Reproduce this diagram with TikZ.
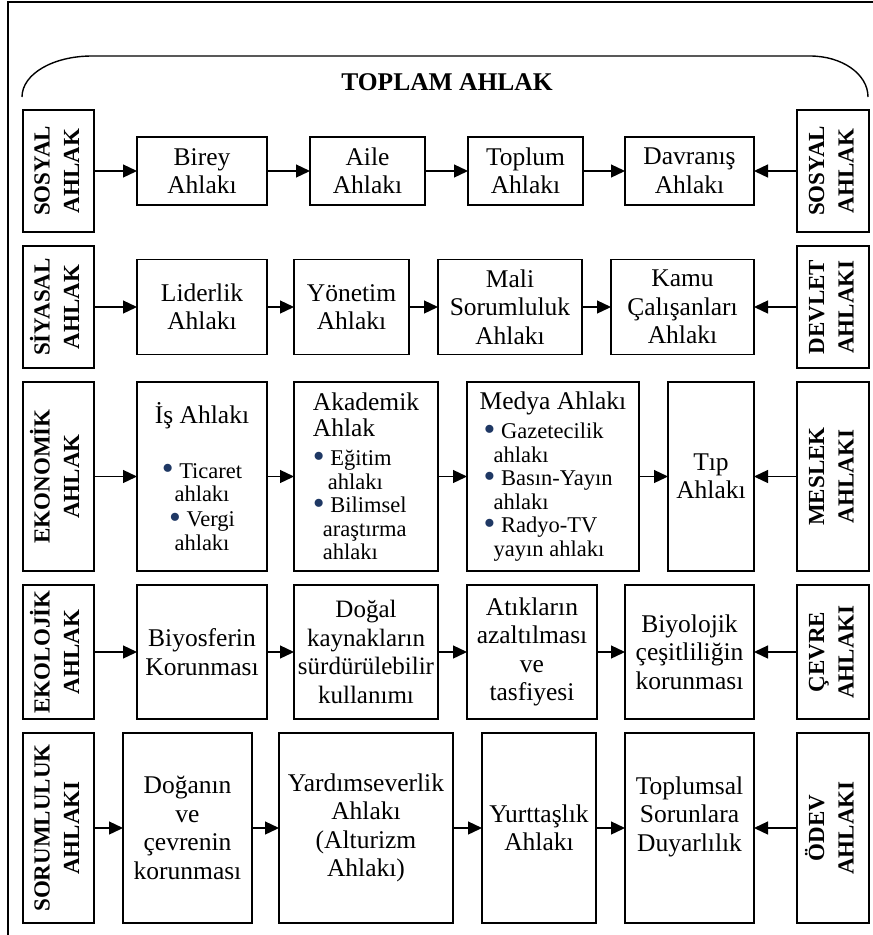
\documentclass[tikz,border=0pt]{standalone}
\usepackage{fontspec}
\setmainfont{Liberation Serif}
\usepackage{graphicx}
\usetikzlibrary{arrows.meta, positioning}
\definecolor{bulletblue}{HTML}{1F3864}
\newcommand{\mainfs}{\fontsize{25.5}{28.5}\selectfont}
\newcommand{\subfs}{\fontsize{22.5}{23.5}\selectfont}
\newcommand{\sidefs}{\fontsize{23}{29.5}\selectfont\bfseries}
\newcommand{\bul}{{\color{bulletblue}\raisebox{-1.5pt}{\scalebox{1.5}{\textbullet}}}}
\newcommand{\sidetext}[2]{\rotatebox{90}{\begin{tabular}{@{}c@{}}#1\\#2\end{tabular}}}

\begin{document}
\begin{tikzpicture}[
    x=1pt, y=1pt,
    box/.style={rectangle, draw, line width=1.4pt, inner sep=2pt, outer sep=0pt, align=center, font=\mainfs},
    side/.style={rectangle, draw, line width=1.6pt, inner sep=0pt, outer sep=0pt, font=\sidefs},
    arrow/.style={-{Triangle[length=14pt,width=13pt]}, line width=1.3pt},
    frame/.style={line width=1.2pt}
]
    \useasboundingbox (0,0) rectangle (873,-935);

    % Frame and top bracket
    \draw[frame] (8,-935) -- (8,-2) -- (873,-2);
    \coordinate (arcL) at (22,-97);
    \coordinate (arcR) at (868,-97);
    \draw[line width=1.4pt] (arcL) .. controls (22,-74) and (53,-56) .. (92,-56)
        -- (810,-56) .. controls (842,-56) and (868,-74) .. (arcR);
    \node[font=\fontsize{25.5}{30}\selectfont\bfseries] (title) at (447,-82) {TOPLAM AHLAK};

    % Row 1
    \node[side, minimum width=71pt, minimum height=122pt] (sosyalL) at (58.5,-171) {\sidetext{SOSYAL}{AHLAK}};
    \node[box, minimum width=130pt, minimum height=68pt, right=43pt of sosyalL] (birey) {Birey\\Ahlakı};
    \node[box, minimum width=115pt, minimum height=68pt, right=43pt of birey] (aile) {Aile\\Ahlakı};
    \node[box, minimum width=115pt, minimum height=68pt, right=43pt of aile] (toplum) {Toplum\\Ahlakı};
    \node[box, minimum width=129pt, minimum height=68pt, right=42pt of toplum] (davranis) {Davranış\\Ahlakı};
    \node[side, minimum width=72pt, minimum height=122pt, right=43pt of davranis] (sosyalR) {\sidetext{SOSYAL}{AHLAK}};

    % Row 2
    \node[side, minimum width=71pt, minimum height=122pt] (siyasal) at (58.5,-307) {\sidetext{SİYASAL}{AHLAK}};
    \node[box, minimum width=130pt, minimum height=95pt, right=43pt of siyasal] (liderlik) {Liderlik\\Ahlakı};
    \node[box, minimum width=115pt, minimum height=95pt, right=27pt of liderlik] (yonetim) {Yönetim\\Ahlakı};
    \node[box, minimum width=144pt, minimum height=95pt, right=29pt of yonetim] (mali) {Mali\\Sorumluluk\\Ahlakı};
    \node[box, minimum width=143pt, minimum height=95pt, right=29pt of mali] (kamu) {Kamu\\Çalışanları\\Ahlakı};
    \node[side, minimum width=72pt, minimum height=122pt, right=43pt of kamu] (devlet) {\sidetext{DEVLET}{AHLAKI}};

    % Row 3
    \node[side, minimum width=71pt, minimum height=189pt] (ekonomik) at (58.5,-476.5) {\sidetext{EKONOMİK}{AHLAK}};
    \node[box, font=\subfs, minimum width=130pt, minimum height=189pt, right=43pt of ekonomik] (is)
        {{\mainfs İş Ahlakı}\\[31.5pt]\bul\ Ticaret\\ahlakı\\[1.5pt]\bul\ Vergi\\ahlakı};
    \node[box, font=\subfs, align=left, minimum width=144pt, minimum height=189pt, right=27pt of is] (akademik)
        {{\mainfs Akademik}\\[2.5pt]{\mainfs Ahlak}\\[6pt]\bul\ Eğitim\\\hspace{15pt}ahlakı\\\bul\ Bilimsel\\\hspace{10pt}araştırma\\\hspace{10pt}ahlakı};
    \node[box, font=\subfs, align=left, minimum width=172pt, minimum height=189pt, right=29pt of akademik] (medya)
        {{\mainfs Medya Ahlakı}\\[6pt]\hspace{4pt}\bul\ Gazetecilik\\\hspace{14pt}ahlakı\\\hspace{4pt}\bul\ Basın-Yayın\\\hspace{14pt}ahlakı\\\hspace{4pt}\bul\ Radyo-TV\\\hspace{14pt}yayın ahlakı};
    \node[box, minimum width=86pt, minimum height=189pt, right=29pt of medya] (tip) {Tıp\\Ahlakı};
    \node[side, minimum width=72pt, minimum height=189pt, right=43pt of tip] (meslek) {\sidetext{MESLEK}{AHLAKI}};

    % Row 4
    \node[side, minimum width=71pt, minimum height=134pt] (ekolojik) at (58.5,-652) {\sidetext{EKOLOJİK}{AHLAK}};
    \node[box, minimum width=130pt, minimum height=134pt, right=43pt of ekolojik] (biyosfer) {Biyosferin\\Korunması};
    \node[box, font=\fontsize{25}{28.5}\selectfont, minimum width=144pt, minimum height=134pt, right=27pt of biyosfer] (dogal) {Doğal\\kaynakların\\sürdürülebilir\\kullanımı};
    \node[box, minimum width=130pt, minimum height=134pt, right=29pt of dogal] (atik) {Atıkların\\azaltılması\\ve\\tasfiyesi};
    \node[box, minimum width=129pt, minimum height=134pt, right=28pt of atik] (biyolojik) {Biyolojik\\çeşitliliğin\\korunması};
    \node[side, minimum width=72pt, minimum height=134pt, right=43pt of biyolojik] (cevre) {\sidetext{ÇEVRE}{AHLAKI}};

    % Row 5
    \node[side, minimum width=71pt, minimum height=190pt] (sorumluluk) at (58.5,-828) {\sidetext{SORUMLULUK}{AHLAKI}};
    \node[box, minimum width=129pt, minimum height=190pt, right=29pt of sorumluluk] (dogan) {Doğanın\\ve\\çevrenin\\korunması};
    \node[box, minimum width=174pt, minimum height=190pt, right=27pt of dogan] (yardim) {Yardımseverlik\\Ahlakı\\(Alturizm\\Ahlakı)};
    \node[box, minimum width=114pt, minimum height=190pt, right=29pt of yardim] (yurttas) {Yurttaşlık\\Ahlakı};
    \node[box, minimum width=129pt, minimum height=190pt, right=29pt of yurttas] (toplumsal) {Toplumsal\\Sorunlara\\Duyarlılık\\~};
    \node[side, minimum width=72pt, minimum height=190pt, right=43pt of toplumsal] (odev) {\sidetext{ÖDEV}{AHLAKI}};

    % Arrows
    \draw[arrow] (sosyalL) -- (birey);
    \draw[arrow] (birey) -- (aile);
    \draw[arrow] (aile) -- (toplum);
    \draw[arrow] (toplum) -- (davranis);
    \draw[arrow] (sosyalR) -- (davranis);

    \draw[arrow] (siyasal) -- (liderlik);
    \draw[arrow] (liderlik) -- (yonetim);
    \draw[arrow] (yonetim) -- (mali);
    \draw[arrow] (mali) -- (kamu);
    \draw[arrow] (devlet) -- (kamu);

    \draw[arrow] (ekonomik) -- (is);
    \draw[arrow] (is) -- (akademik);
    \draw[arrow] (akademik) -- (medya);
    \draw[arrow] (medya) -- (tip);
    \draw[arrow] (meslek) -- (tip);

    \draw[arrow] (ekolojik) -- (biyosfer);
    \draw[arrow] (biyosfer) -- (dogal);
    \draw[arrow] (dogal) -- (atik);
    \draw[arrow] (atik) -- (biyolojik);
    \draw[arrow] (cevre) -- (biyolojik);

    \draw[arrow] (sorumluluk) -- (dogan);
    \draw[arrow] (dogan) -- (yardim);
    \draw[arrow] (yardim) -- (yurttas);
    \draw[arrow] (yurttas) -- (toplumsal);
    \draw[arrow] (odev) -- (toplumsal);

\end{tikzpicture}
\end{document}
